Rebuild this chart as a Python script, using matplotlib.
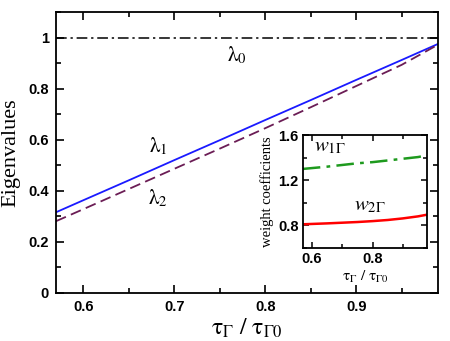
import matplotlib
matplotlib.use("Agg")
import matplotlib.pyplot as plt
from matplotlib.ticker import MultipleLocator

plt.rcParams["mathtext.fontset"] = "stix"
plt.rcParams["font.family"] = "Liberation Sans"

# main panel: eigenvalues vs tau ratio
tau = [0.57, 0.6, 0.65, 0.7, 0.75, 0.8, 0.85, 0.9, 0.95, 0.99]
lam0 = [1.0] * len(tau)
lam1 = [0.316, 0.363, 0.441, 0.520, 0.598, 0.677, 0.755, 0.834, 0.912, 0.975]
lam2 = [0.281, 0.328, 0.407, 0.486, 0.565, 0.645, 0.727, 0.810, 0.893, 0.972]

# inset: weight coefficients
tau_in = [0.57, 0.65, 0.7, 0.75, 0.8, 0.85, 0.9, 0.95, 0.98]
w1 = [1.30, 1.32, 1.335, 1.35, 1.36, 1.375, 1.39, 1.405, 1.42]
w2 = [0.81, 0.818, 0.824, 0.83, 0.838, 0.848, 0.862, 0.88, 0.895]

fig = plt.figure(figsize=(4.5, 3.41), dpi=100)
ax = fig.add_axes([0.1244, 0.1408, 0.8489, 0.824])

ax.plot(tau, lam0, color="black", lw=1.1, dashes=(7, 2.5, 1.5, 2.5))
ax.plot(tau, lam1, color="#1a1aff", lw=1.3)
ax.plot(tau, lam2, color="#6b1d55", lw=1.3, dashes=(6, 3))

ax.set_xlim(0.57, 0.99)
ax.set_ylim(0, 1.1)
ax.xaxis.set_major_locator(MultipleLocator(0.1))
ax.xaxis.set_minor_locator(MultipleLocator(0.05))
ax.yaxis.set_major_locator(MultipleLocator(0.2))
ax.yaxis.set_minor_locator(MultipleLocator(0.1))
ax.set_yticks([0, 0.2, 0.4, 0.6, 0.8, 1.0])
ax.set_yticklabels(["0", "0.2", "0.4", "0.6", "0.8", "1"])
ax.tick_params(which="both", direction="in", top=True, right=True, width=1.2)
ax.tick_params(which="major", length=6, labelsize=10.5, pad=5)
ax.tick_params(which="minor", length=3.5)
for lab in ax.get_xticklabels() + ax.get_yticklabels():
    lab.set_fontweight("bold")
for s in ax.spines.values():
    s.set_linewidth(1.3)

ax.set_xlabel(r"$\mathrm{\tau_\Gamma\ /\ \tau_{\Gamma 0}}$", fontsize=17, labelpad=2)
ax.set_ylabel("Eigenvalues", fontsize=16, family="Liberation Serif", labelpad=6)

ax.text(0.769, 0.93, r"$\mathrm{\lambda}_0$", fontsize=15, ha="center", va="center")
ax.text(0.682, 0.575, r"$\mathrm{\lambda}_1$", fontsize=15, ha="center", va="center")
ax.text(0.682, 0.373, r"$\mathrm{\lambda}_2$", fontsize=15, ha="center", va="center")

# inset
ins = fig.add_axes([0.673, 0.2727, 0.276, 0.3313])
ins.plot(tau_in, w1, color="#1e9a1e", lw=1.8, dashes=(7, 2.5, 1.5, 2.5))
ins.plot(tau_in, w2, color="#ff0000", lw=1.8)
ins.set_xlim(0.57, 0.98)
ins.set_ylim(0.6, 1.6)
ins.xaxis.set_major_locator(MultipleLocator(0.2))
ins.xaxis.set_minor_locator(MultipleLocator(0.1))
ins.yaxis.set_major_locator(MultipleLocator(0.4))
ins.yaxis.set_minor_locator(MultipleLocator(0.2))
ins.set_yticks([0.8, 1.2, 1.6])
ins.tick_params(which="both", direction="in", top=True, right=True, width=1.1)
ins.tick_params(which="major", length=4.5, labelsize=10.5, pad=3)
ins.tick_params(which="minor", length=3)
for lab in ins.get_xticklabels() + ins.get_yticklabels():
    lab.set_fontweight("bold")
for s in ins.spines.values():
    s.set_linewidth(1.3)
ins.set_xlabel(r"$\mathrm{\tau_\Gamma\ /\ \tau_{\Gamma 0}}$", fontsize=11, labelpad=2)
ins.set_ylabel("weight coefficients", fontsize=10.5, family="Liberation Serif", labelpad=3)
ins.text(0.66, 1.5, r"$w_{\mathit{1\Gamma}}$", fontsize=15, ha="center", va="center")
ins.text(0.79, 0.98, r"$w_{2\Gamma}$", fontsize=15, ha="center", va="center")

fig.savefig("out.png", dpi=100)
